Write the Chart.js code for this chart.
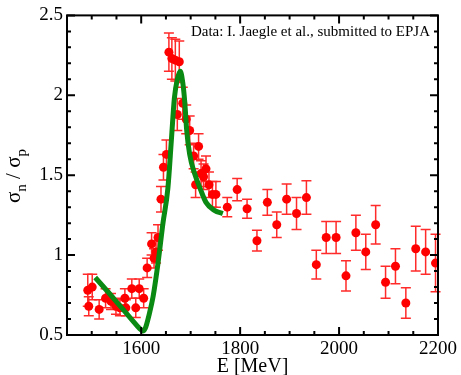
<!DOCTYPE html>
<html>
<head>
<meta charset="utf-8">
<script src="https://cdn.jsdelivr.net/npm/chart.js@4.4.1/dist/chart.umd.min.js"></script>
<style>
  html, body { margin: 0; padding: 0; background: #fff; }
  #wrap { width: 461px; height: 375px; position: relative; }
</style>
</head>
<body>
<div id="wrap"><canvas id="myChart"></canvas></div>
<script>
// measured ratio (data points with errors)
var energy = [1492, 1494, 1501, 1515, 1528, 1539, 1549, 1557, 1567, 1569, 1581, 1589, 1596, 1605, 1612,
  1621, 1626, 1630, 1634, 1640, 1645, 1651, 1656, 1662, 1669, 1673, 1677, 1684, 1691, 1698,
  1706, 1710, 1716, 1721, 1726, 1731, 1737, 1744, 1751, 1774, 1794, 1814, 1834, 1855, 1874,
  1894, 1914, 1934, 1954, 1974, 1994, 2014, 2034, 2054, 2074, 2094, 2114, 2135, 2155, 2175, 2195];
var ratio = [0.78, 0.68, 0.80, 0.66, 0.73, 0.71, 0.68, 0.67, 0.73, 0.67, 0.79, 0.67, 0.79, 0.73, 0.92,
  1.07, 0.98, 1.02, 1.11, 1.35, 1.55, 1.63, 2.27, 2.23, 2.22, 1.88, 2.21, 1.95, 1.85, 1.78,
  1.62, 1.44, 1.68, 1.51, 1.49, 1.54, 1.44, 1.38, 1.38, 1.30, 1.41, 1.29, 1.09, 1.33, 1.19,
  1.35, 1.26, 1.36, 0.94, 1.11, 1.11, 0.87, 1.14, 1.02, 1.19, 0.83, 0.93, 0.70, 1.04, 1.02, 0.95];
var ratioErr = [0.10, 0.06, 0.08, 0.06, 0.06, 0.05, 0.05, 0.05, 0.06, 0.05, 0.06, 0.06, 0.06, 0.06, 0.06,
  0.07, 0.06, 0.07, 0.08, 0.08, 0.08, 0.09, 0.12, 0.13, 0.13, 0.10, 0.13, 0.10, 0.09, 0.09,
  0.08, 0.08, 0.08, 0.08, 0.08, 0.08, 0.08, 0.08, 0.08, 0.06, 0.07, 0.06, 0.065, 0.08, 0.08,
  0.095, 0.10, 0.105, 0.09, 0.10, 0.10, 0.095, 0.11, 0.11, 0.12, 0.10, 0.11, 0.095, 0.14, 0.14, 0.18];

// theory curve
var curveE = [1507, 1530, 1555, 1580, 1597, 1603, 1608, 1617, 1624, 1634, 1644, 1654, 1661, 1667, 1673,
  1679, 1684, 1688, 1692, 1698, 1708, 1720, 1731, 1748, 1765];
var curveRatio = [0.86, 0.78, 0.69, 0.60, 0.54, 0.525, 0.54, 0.64, 0.74, 0.95, 1.20, 1.42, 1.72, 1.98, 2.10,
  2.15, 2.08, 1.96, 1.78, 1.63, 1.51, 1.41, 1.33, 1.28, 1.26];

var xTicks = [1600, 1800, 2000, 2200];
var yTicks = [0.5, 1, 1.5, 2, 2.5];

var serif = "'Liberation Serif', 'Times New Roman', serif";

var points = energy.map(function (e, i) { return { x: e, y: ratio[i] }; });
var curve = curveE.map(function (e, i) { return { x: e, y: curveRatio[i] }; });

// error bars drawn under the points
var errorBars = {
  id: "errorBars",
  beforeDatasetsDraw: function (chart) {
    var ctx = chart.ctx, xs = chart.scales.x, ys = chart.scales.y;
    ctx.save();
    ctx.strokeStyle = "#ff2a2a";
    ctx.lineWidth = 1.5;
    for (var i = 0; i < energy.length; i++) {
      var px = xs.getPixelForValue(energy[i]);
      var top = ys.getPixelForValue(ratio[i] + ratioErr[i]);
      var bot = ys.getPixelForValue(ratio[i] - ratioErr[i]);
      ctx.beginPath();
      ctx.moveTo(px, top); ctx.lineTo(px, bot);
      ctx.moveTo(px - 5, top); ctx.lineTo(px + 5, top);
      ctx.moveTo(px - 5, bot); ctx.lineTo(px + 5, bot);
      ctx.stroke();
    }
    ctx.restore();
  }
};

// frame with inward ticks, y title with subscripts, data note
var frame = {
  id: "frame",
  afterDraw: function (chart) {
    var ctx = chart.ctx, a = chart.chartArea, xs = chart.scales.x, ys = chart.scales.y;
    ctx.save();
    ctx.strokeStyle = "#000";
    ctx.lineWidth = 2;
    ctx.strokeRect(a.left, a.top, a.right - a.left, a.bottom - a.top);

    ctx.beginPath();
    for (var v = 1450; v <= 2200; v += 50) {
      var px = xs.getPixelForValue(v);
      var len = xTicks.indexOf(v) >= 0 ? 8 : 4;
      ctx.moveTo(px, a.bottom); ctx.lineTo(px, a.bottom - len);
      ctx.moveTo(px, a.top); ctx.lineTo(px, a.top + len);
    }
    for (var k = 5; k <= 25; k++) {
      var py = ys.getPixelForValue(k / 10);
      var l2 = (k % 5 === 0) ? 8 : 4;
      ctx.moveTo(a.left, py); ctx.lineTo(a.left + l2, py);
      ctx.moveTo(a.right, py); ctx.lineTo(a.right - l2, py);
    }
    ctx.stroke();

    // note
    ctx.fillStyle = "#000";
    ctx.font = "15px " + serif;
    ctx.textAlign = "right";
    ctx.textBaseline = "alphabetic";
    ctx.fillText("Data: I. Jaegle et al., submitted to EPJA", 430, 36);

    // y title: sigma_n / sigma_p
    var big = "21px " + serif, small = "15px " + serif;
    var parts = [["\u03c3", big, 0], ["n", small, 6], [" / ", big, 0], ["\u03c3", big, 0], ["p", small, 6]];
    var total = 0;
    parts.forEach(function (p) { ctx.font = p[1]; total += ctx.measureText(p[0]).width; });
    ctx.translate(20, 176);
    ctx.rotate(-Math.PI / 2);
    ctx.textAlign = "left";
    var cx = -total / 2;
    parts.forEach(function (p) {
      ctx.font = p[1];
      ctx.fillText(p[0], cx, p[2]);
      cx += ctx.measureText(p[0]).width;
    });
    ctx.restore();
  }
};

new Chart("myChart", {
  data: {
    datasets: [{
      type: "line",
      data: curve,
      borderColor: "#0a8a12",
      borderWidth: 5,
      pointRadius: 0,
      fill: false,
      cubicInterpolationMode: "monotone",
      order: 0
    }, {
      type: "scatter",
      data: points,
      backgroundColor: "#ff0000",
      borderWidth: 0,
      pointRadius: 4.5,
      order: 1
    }]
  },
  options: {
    responsive: true,
    maintainAspectRatio: false,
    animation: false,
    devicePixelRatio: 1,
    layout: { padding: { top: 14, right: 23, left: 0, bottom: 0 } },
    plugins: { legend: { display: false }, tooltip: { enabled: false } },
    scales: {
      x: {
        type: "linear",
        min: 1450,
        max: 2200,
        afterBuildTicks: function (s) { s.ticks = xTicks.map(function (v) { return { value: v }; }); },
        afterFit: function (s) { s.height = 40; },
        grid: { display: false, drawTicks: false },
        border: { display: false },
        ticks: {
          color: "#000", padding: 3, maxRotation: 0, autoSkip: false,
          font: { family: serif, size: 19 },
          callback: function (v) { return String(v); }
        },
        title: { display: true, text: "E [MeV]", color: "#000", padding: { top: 0, bottom: -4 }, font: { family: serif, size: 20 } }
      },
      y: {
        type: "linear",
        min: 0.5,
        max: 2.5,
        afterBuildTicks: function (s) { s.ticks = yTicks.map(function (v) { return { value: v }; }); },
        afterFit: function (s) { s.width = 67; },
        grid: { display: false, drawTicks: false },
        border: { display: false },
        ticks: {
          color: "#000", padding: 4, autoSkip: false,
          font: { family: serif, size: 19 },
          callback: function (v) { return String(v); }
        }
      }
    }
  },
  plugins: [errorBars, frame]
});
</script>
</body>
</html>
